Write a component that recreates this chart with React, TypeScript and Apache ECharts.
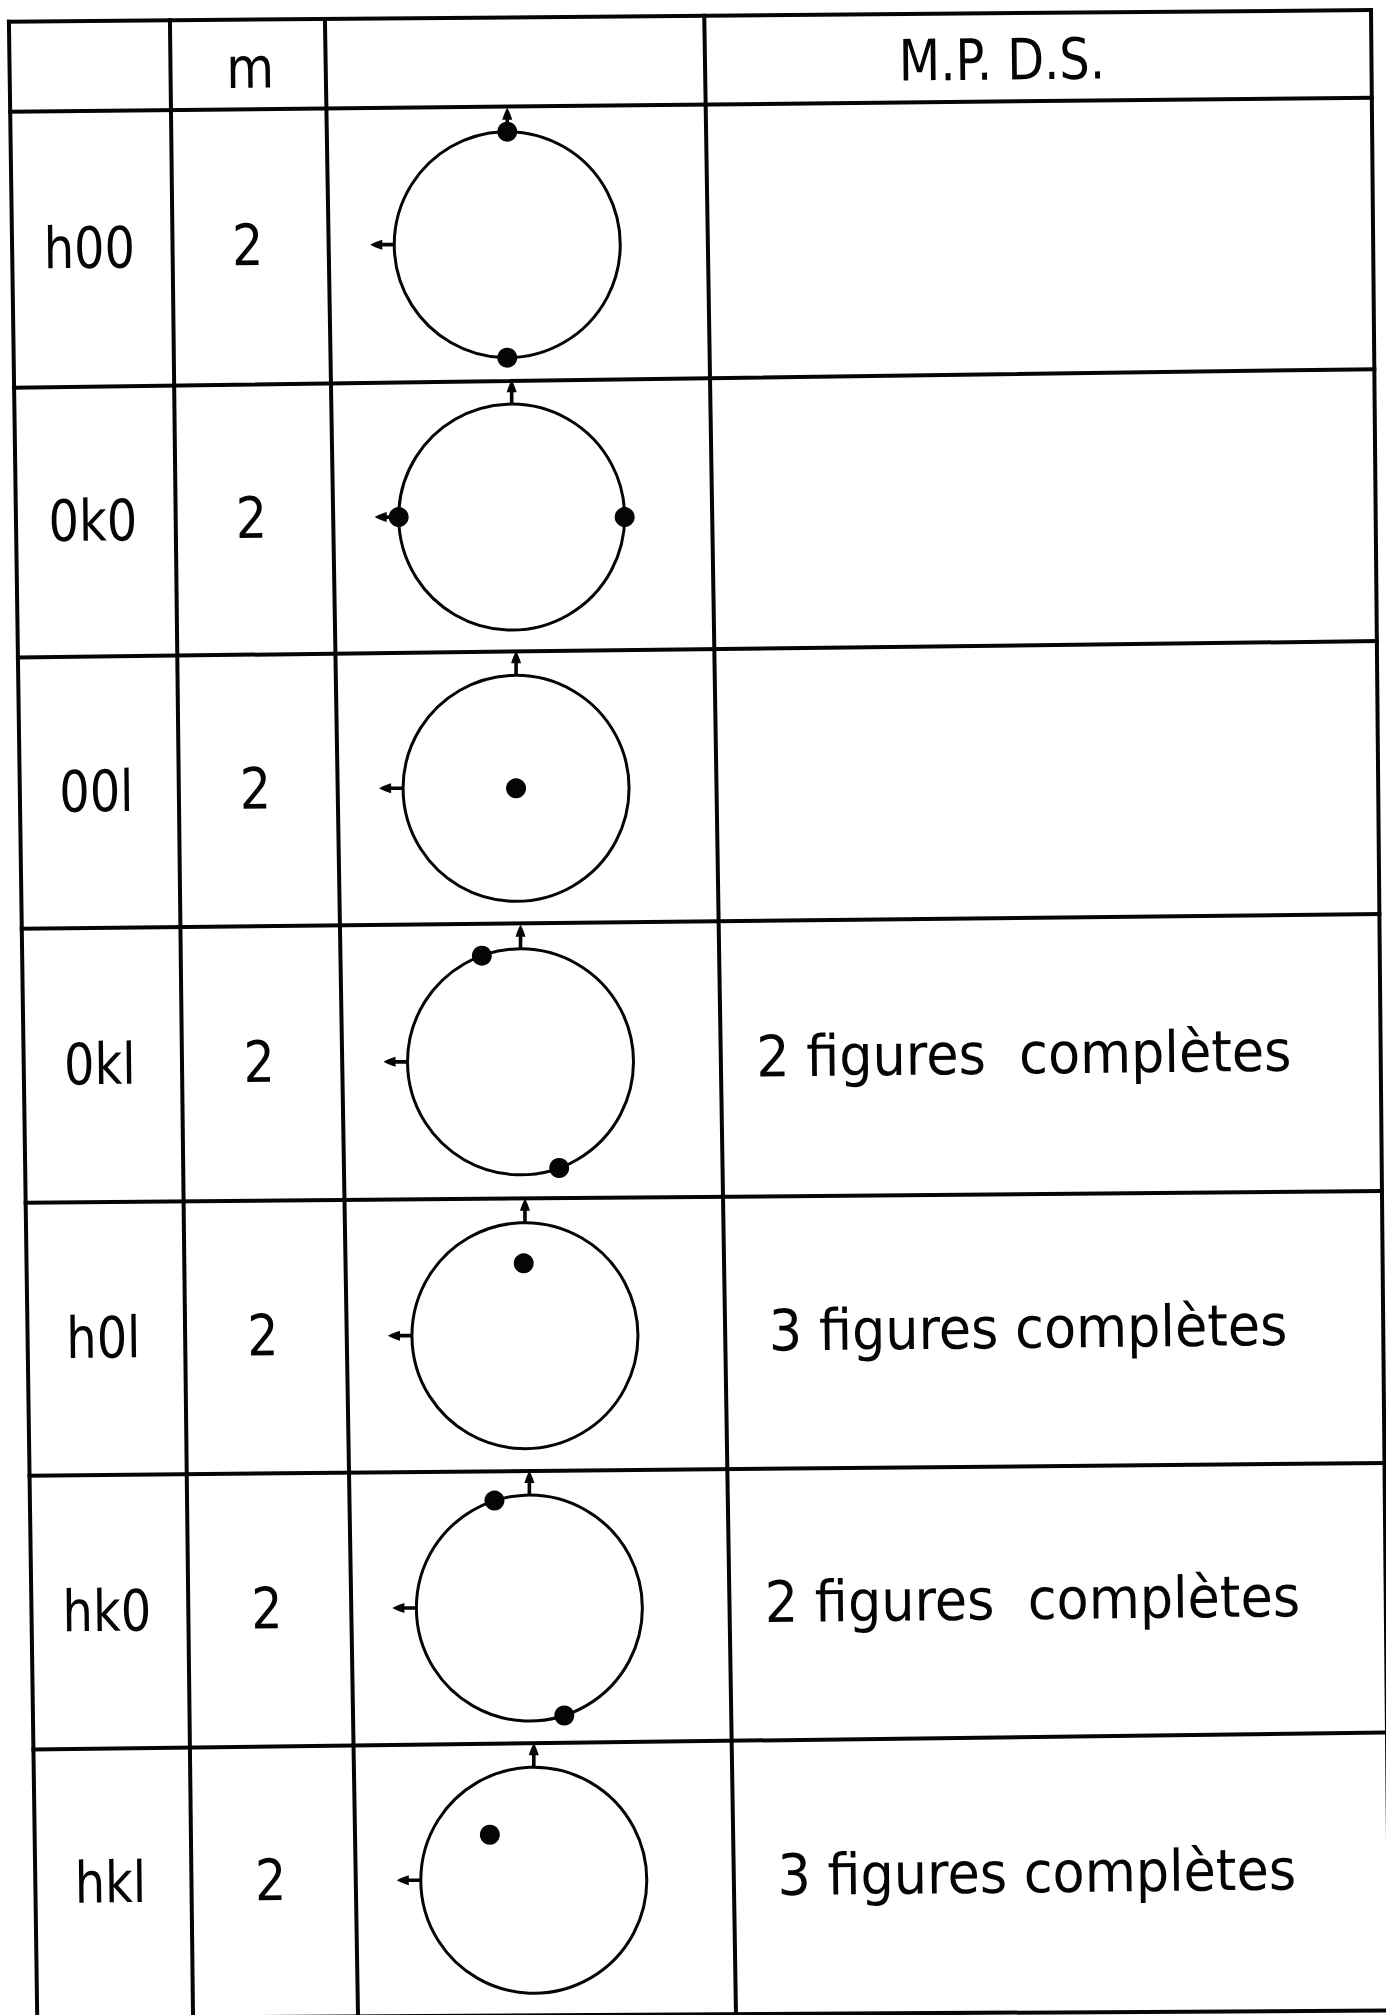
import React, { useEffect, useRef } from 'react';
import * as echarts from 'echarts';

// ---------- data ----------
const headerLabels = ['', 'm', '', 'M.P. D.S.'];
const reflections = ['h00', '0k0', '00l', '0kl', 'h0l', 'hk0', 'hkl'];
const multiplicities = ['2', '2', '2', '2', '2', '2', '2'];
const mpdsNotes = [
  '',
  '',
  '',
  '2 figures  complètes',
  '3 figures complètes',
  '2 figures  complètes',
  '3 figures complètes',
];

// projected equivalent positions: [relative radius, angle in degrees, counterclockwise from 3 o'clock]
const dotsH00 = [[1, 90], [1, 270]];
const dots0K0 = [[1, 0], [1, 180]];
const dots00L = [[0, 0]];
const dots0KL = [[1, 110], [1, 290]];
const dotsH0L = [[0.64, 91]];
const dotsHK0 = [[1, 108], [1, 288]];
const dotsHKL = [[0.56, 134]];
const projections = [dotsH00, dots0K0, dots00L, dots0KL, dotsH0L, dotsHK0, dotsHKL];

// axis markers on every stereogram (radius, angle)
const northMarker = [1.106, 90];
const westMarker = [1.106, 180];

// ---------- layout ----------
const PAGE_W = 1386;
const PAGE_H = 2015;
// horizontal rules: y at left page edge, y at right page edge
const rowRules = [
  [21.8, 9.9],
  [111.8, 97.5],
  [388, 369],
  [657.7, 641],
  [929, 914],
  [1203, 1191],
  [1476, 1463],
  [1750, 1732.5],
  [2018.5, 2010.5],
];
// vertical rules: x at top page edge, x at bottom page edge
const colRules = [
  [8.6, 37.2],
  [169.7, 193],
  [324.6, 358],
  [704, 736],
  [1370.9, 1389.6],
];
const TILT = 0.011;
const R = 113;
const FONT_SIZE = 57;
const FONT = '"DejaVu Sans", "Liberation Sans", sans-serif';
const INK = '#050505';

const ARROW_UP = 'path://M-1.8,24 L-1.8,12 L-5,12 Q-2.5,4 0,0 Q2.5,4 5,12 L1.8,12 L1.8,24 Z';
const ARROW_LEFT = 'path://M24,-1.8 L12,-1.8 L12,-5 Q4,-2.5 0,0 Q4,2.5 12,5 L12,1.8 L24,1.8 Z';

function cross(i: number, j: number): [number, number] {
  const [a, a2] = rowRules[i];
  const b = (a2 - a) / PAGE_W;
  const [c, c2] = colRules[j];
  const d = (c2 - c) / PAGE_H;
  const y = (a + b * c) / (1 - b * d);
  return [c + d * y, y];
}

function cellCenter(r: number, c: number): [number, number] {
  const p = [cross(r, c), cross(r, c + 1), cross(r + 1, c), cross(r + 1, c + 1)];
  return [
    (p[0][0] + p[1][0] + p[2][0] + p[3][0]) / 4,
    (p[0][1] + p[1][1] + p[2][1] + p[3][1]) / 4,
  ];
}

function colX(j: number, y: number) {
  const [c, c2] = colRules[j];
  return c + ((c2 - c) * y) / PAGE_H;
}

function textEl(x: number, y: number, s: string, sx: number) {
  return {
    type: 'text',
    x,
    y,
    rotation: TILT,
    scaleX: sx,
    silent: true,
    z: 10,
    style: {
      text: s,
      fontSize: FONT_SIZE,
      fontFamily: FONT,
      fill: INK,
      align: 'center',
      verticalAlign: 'middle',
      textAlign: 'center',
      textVerticalAlign: 'middle',
    },
  };
}

function buildOption() {
  const elements: any[] = [];
  rowRules.forEach((_, i) => {
    const [x1, y1] = cross(i, 0);
    const [x2, y2] = cross(i, colRules.length - 1);
    elements.push({
      type: 'line',
      silent: true,
      z: 5,
      shape: { x1, y1, x2, y2 },
      style: { stroke: INK, lineWidth: 4, lineCap: 'square' },
    });
  });
  colRules.forEach((_, j) => {
    const [x1, y1] = cross(0, j);
    const [x2, y2] = cross(rowRules.length - 1, j);
    elements.push({
      type: 'line',
      silent: true,
      z: 5,
      shape: { x1, y1, x2, y2 },
      style: { stroke: INK, lineWidth: 4, lineCap: 'square' },
    });
  });

  // header
  headerLabels.forEach((lab, c) => {
    if (!lab) return;
    const [cx, cy] = cellCenter(0, c);
    if (c === 3) {
      elements.push(textEl(colX(3, cy) + 297, cy + 2.5, lab, 0.84));
    } else {
      elements.push(textEl(cx + 2, cy + 4, lab, 0.86));
    }
  });

  const centers: [number, number][] = [];
  reflections.forEach((lab, k) => {
    const row = k + 1;
    const [lx, ly] = cellCenter(row, 0);
    elements.push(textEl(lx - 3, ly - 1, lab, 0.84));
    const [mx, my] = cellCenter(row, 1);
    elements.push(textEl(mx - 3, my - 1, multiplicities[k], 0.86));
    const [sx, sy] = cellCenter(row, 2);
    centers.push([sx - 11, sy + 1]);
    const note = mpdsNotes[k];
    if (note) {
      const [, ny] = cellCenter(row, 3);
      elements.push(textEl(colX(3, ny) + 303, ny - 2, note, 0.92));
    }
  });

  const series: any[] = [];
  projections.forEach((dots, i) => {
    series.push({
      type: 'scatter',
      coordinateSystem: 'polar',
      polarIndex: i,
      data: dots,
      symbol: 'circle',
      symbolSize: 20,
      itemStyle: { color: INK, opacity: 1 },
      clip: false,
      silent: true,
      z: 6,
    });
    series.push({
      type: 'scatter',
      coordinateSystem: 'polar',
      polarIndex: i,
      data: [northMarker],
      symbol: ARROW_UP,
      symbolSize: [10, 24],
      itemStyle: { color: INK, opacity: 1 },
      clip: false,
      silent: true,
      z: 4,
    });
    series.push({
      type: 'scatter',
      coordinateSystem: 'polar',
      polarIndex: i,
      data: [westMarker],
      symbol: ARROW_LEFT,
      symbolSize: [24, 10],
      itemStyle: { color: INK, opacity: 1 },
      clip: false,
      silent: true,
      z: 4,
    });
  });

  return {
    animation: false,
    backgroundColor: '#ffffff',
    polar: centers.map((c) => ({ center: c, radius: R })),
    angleAxis: centers.map((_, i) => ({
      polarIndex: i,
      type: 'value',
      min: 0,
      max: 360,
      startAngle: 0,
      clockwise: false,
      axisLine: { show: true, lineStyle: { color: INK, width: 3 } },
      axisTick: { show: false },
      axisLabel: { show: false },
      splitLine: { show: false },
      splitArea: { show: false },
    })),
    radiusAxis: centers.map((_, i) => ({
      polarIndex: i,
      type: 'value',
      min: 0,
      max: 1,
      axisLine: { show: false },
      axisTick: { show: false },
      axisLabel: { show: false },
      splitLine: { show: false },
      splitArea: { show: false },
    })),
    series,
    graphic: { elements },
  };
}

export default function App() {
  const ref = useRef<HTMLDivElement>(null);
  useEffect(() => {
    if (!ref.current) return;
    const chart = echarts.init(ref.current, undefined, { renderer: 'svg' });
    chart.setOption(buildOption() as any);
    return () => chart.dispose();
  }, []);
  return (
    <div
      ref={ref}
      style={{
        position: 'absolute',
        left: 0,
        top: 0,
        width: PAGE_W,
        height: PAGE_H,
        background: '#ffffff',
      }}
    />
  );
}
